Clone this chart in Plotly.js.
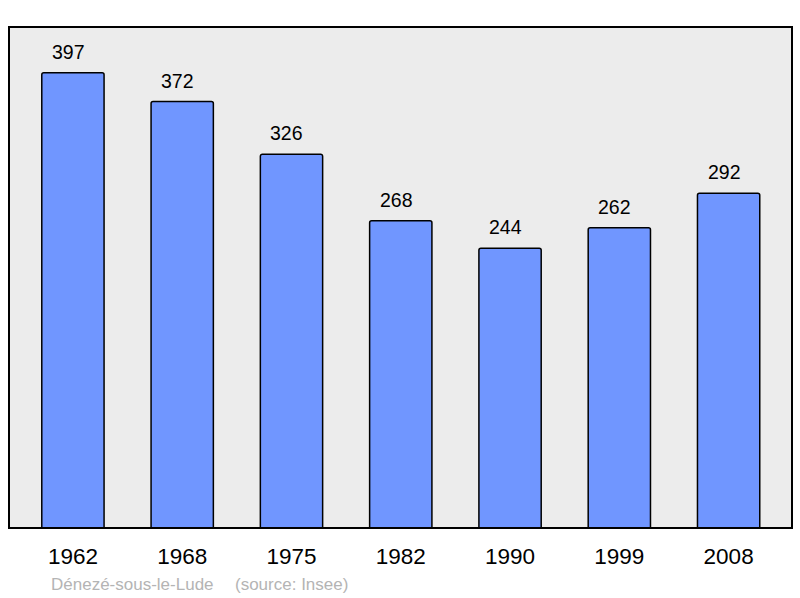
<!DOCTYPE html>
<html>
<head>
<meta charset="utf-8">
<script src="https://cdn.plot.ly/plotly-3.0.1.min.js"></script>
<style>
  body { margin: 0; background: #fff; }
  #chart { width: 800px; height: 598px; }
</style>
</head>
<body>
<div id="chart"></div>
<script>
// population par recensement
var annees = ['1962', '1968', '1975', '1982', '1990', '1999', '2008'];
var population = [397, 372, 326, 268, 244, 262, 292];
var commune = 'Dénezé-sous-le-Lude';
var source = '(source: Insee)';

var police = 'Liberation Sans, Arial, sans-serif';

var trace = {
    x: annees,
    y: population,
    type: 'bar',
    width: 0.57,
    marker: {
        color: '#7096ff',
        line: { color: '#000', width: 1.5 },
        cornerradius: 2
    },
    hoverinfo: 'x+y'
};

// valeurs au-dessus des barres (x = index de la categorie)
var annotations = annees.map((a, i) => ({
    x: i,
    y: population[i],
    xshift: -4.5,
    yshift: 21,
    text: String(population[i]),
    showarrow: false,
    font: { family: police, size: 19.5, color: '#000' }
}));

annotations.push({
    xref: 'paper', yref: 'paper',
    x: 40 / 783, y: -56 / 501,
    xanchor: 'left', yanchor: 'middle',
    text: commune,
    showarrow: false,
    font: { family: police, size: 17, color: '#b4b4b4' }
});
annotations.push({
    xref: 'paper', yref: 'paper',
    x: 224 / 783, y: -56 / 501,
    xanchor: 'left', yanchor: 'middle',
    text: source,
    showarrow: false,
    font: { family: police, size: 17, color: '#b4b4b4' }
});

var layout = {
    width: 800,
    height: 598,
    margin: { l: 9, r: 8, t: 27, b: 70 },
    paper_bgcolor: '#fff',
    plot_bgcolor: '#ececec',
    showlegend: false,
    xaxis: {
        type: 'category',
        range: [-0.585, 6.58],
        showgrid: false,
        zeroline: false,
        ticks: 'outside',
        ticklen: 8,
        tickcolor: 'rgba(0,0,0,0)',
        tickfont: { family: police, size: 22.5, color: '#000' }
    },
    yaxis: {
        range: [0, 437],
        showgrid: false,
        zeroline: false,
        showticklabels: false
    },
    shapes: [{
        type: 'rect',
        xref: 'paper', yref: 'paper',
        x0: 0, x1: 1, y0: 0, y1: 1,
        line: { color: '#000', width: 2 },
        layer: 'above'
    }],
    annotations: annotations
};

Plotly.newPlot('chart', [trace], layout, { displayModeBar: false, staticPlot: true });
</script>
</body>
</html>
